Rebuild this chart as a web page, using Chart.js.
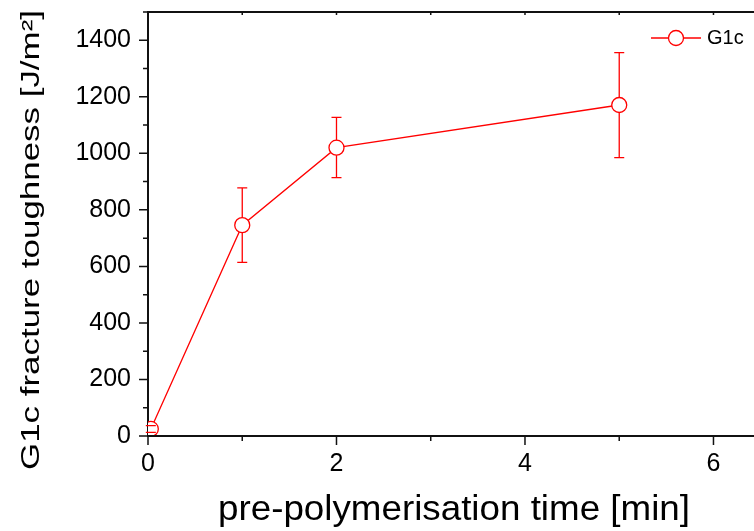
<!DOCTYPE html>
<html>
<head>
<meta charset="utf-8">
<script src="https://cdn.jsdelivr.net/npm/chart.js@4/dist/chart.umd.min.js"></script>
<style>
  html, body { margin: 0; padding: 0; background: #fff; }
  #wrap { width: 754px; height: 531px; }
</style>
</head>
<body>
<div id="wrap"><canvas id="grafico"></canvas></div>
<script>
// dados
const tempos = [0.03, 1, 2, 5];            // pre-polymerisation time [min]
const tenacidade = [25, 746, 1020, 1171];  // G1c [J/m2]
const erroSup = [12, 132, 107, 185];       // barra de erro para cima
const erroInf = [12, 132, 106, 186];       // barra de erro para baixo
const xTicks = [0, 2, 4, 6];
const yTicks = [0, 200, 400, 600, 800, 1000, 1200, 1400];

const vermelho = '#ff0000';
const fonte = 'Liberation Sans, Arial, sans-serif';

function semPadding(s) {
  s.paddingTop = 0; s.paddingBottom = 0; s.paddingLeft = 0; s.paddingRight = 0;
}

// texto esticado até uma largura fixa (como no original)
function textoEsticado(ctx, txt, largura) {
  const w = ctx.measureText(txt).width;
  ctx.scale(largura / w, 1);
  ctx.fillText(txt, 0, 0);
}

// barras de erro, eixos com ticks menores, legenda e titulos
const extras = {
  id: 'extras',
  afterDatasetsDraw(chart) {
    const ctx = chart.ctx;
    const xs = chart.scales.x, ys = chart.scales.y;
    const area = chart.chartArea;
    ctx.save();
    // barras de erro
    ctx.strokeStyle = vermelho;
    ctx.lineWidth = 1.3;
    tempos.forEach((t, i) => {
      const px = xs.getPixelForValue(t);
      const top = ys.getPixelForValue(tenacidade[i] + erroSup[i]);
      const bot = ys.getPixelForValue(tenacidade[i] - erroInf[i]);
      const c = ys.getPixelForValue(tenacidade[i]);
      ctx.beginPath();
      if (c - 7.5 > top) { ctx.moveTo(px, top); ctx.lineTo(px, c - 7.5); }
      if (c + 7.5 < bot) { ctx.moveTo(px, c + 7.5); ctx.lineTo(px, bot); }
      ctx.moveTo(px - 5, top); ctx.lineTo(px + 5, top);
      ctx.moveTo(px - 5, bot); ctx.lineTo(px + 5, bot);
      ctx.stroke();
    });
    // moldura e ticks
    ctx.strokeStyle = '#111';
    ctx.lineWidth = 2;
    ctx.beginPath();
    ctx.moveTo(area.left, area.top); ctx.lineTo(754, area.top);
    ctx.moveTo(area.left, area.bottom); ctx.lineTo(754, area.bottom);
    ctx.stroke();
    ctx.lineWidth = 1.5;
    ctx.beginPath();
    for (let v = 0; v <= 1500; v += 100) {
      const py = ys.getPixelForValue(v);
      const len = v % 200 === 0 ? 9 : 5;
      ctx.moveTo(area.left - len, py); ctx.lineTo(area.left, py);
    }
    for (let v = 0; v <= 6; v += 1) {
      const px = xs.getPixelForValue(v);
      const len = v % 2 === 0 ? 9 : 5;
      ctx.moveTo(px, area.bottom); ctx.lineTo(px, area.bottom + len);
      ctx.moveTo(px, area.top); ctx.lineTo(px, area.top + 3);
    }
    ctx.stroke();
    // legenda
    ctx.strokeStyle = vermelho;
    ctx.lineWidth = 1.3;
    ctx.beginPath();
    ctx.moveTo(651, 38); ctx.lineTo(701, 38);
    ctx.stroke();
    ctx.fillStyle = '#fff';
    ctx.beginPath();
    ctx.arc(676, 38, 7.5, 0, Math.PI * 2);
    ctx.fill(); ctx.stroke();
    ctx.fillStyle = '#000';
    ctx.font = '20px ' + fonte;
    ctx.textBaseline = 'middle';
    ctx.textAlign = 'left';
    ctx.fillText('G1c', 707, 38);
    // titulo eixo x
    ctx.textBaseline = 'alphabetic';
    ctx.save();
    ctx.font = '35px ' + fonte;
    ctx.translate(218, 520);
    textoEsticado(ctx, 'pre-polymerisation time [min]', 472);
    ctx.restore();
    // titulo eixo y
    ctx.save();
    ctx.font = '25px ' + fonte;
    ctx.translate(39, 470);
    ctx.rotate(-Math.PI / 2);
    textoEsticado(ctx, 'G1c fracture toughness [J/m²]', 460);
    ctx.restore();
    ctx.restore();
  }
};

new Chart(document.getElementById('grafico'), {
  type: 'scatter',
  data: {
    datasets: [{
      label: 'G1c',
      data: tempos.map((t, i) => ({ x: t, y: tenacidade[i] })),
      showLine: true,
      borderColor: vermelho,
      borderWidth: 1.3,
      pointRadius: 7.5,
      pointHoverRadius: 7.5,
      pointBackgroundColor: '#fff',
      pointBorderColor: vermelho,
      pointBorderWidth: 1.3
    }]
  },
  options: {
    responsive: true,
    maintainAspectRatio: false,
    animation: false,
    layout: { autoPadding: false, padding: { top: 12, left: 0, right: 0, bottom: 0 } },
    plugins: { legend: { display: false }, tooltip: { enabled: false } },
    scales: {
      x: {
        type: 'linear',
        min: 0, max: 6.43,
        afterFit(s) { s.height = 95; semPadding(s); },
        afterBuildTicks(s) { s.ticks = xTicks.map(v => ({ value: v })); },
        grid: { display: false },
        border: { color: '#111', width: 2 },
        ticks: {
          color: '#000', font: { family: fonte, size: 25 }, padding: 5,
          callback: v => String(v)
        }
      },
      y: {
        min: 0, max: 1500,
        afterFit(s) { s.width = 148; semPadding(s); },
        afterBuildTicks(s) { s.ticks = yTicks.map(v => ({ value: v })); },
        grid: { display: false },
        border: { color: '#111', width: 2 },
        ticks: {
          color: '#000', font: { family: fonte, size: 25 }, padding: 9,
          callback: v => String(v)
        }
      }
    }
  },
  plugins: [extras]
});
</script>
</body>
</html>
